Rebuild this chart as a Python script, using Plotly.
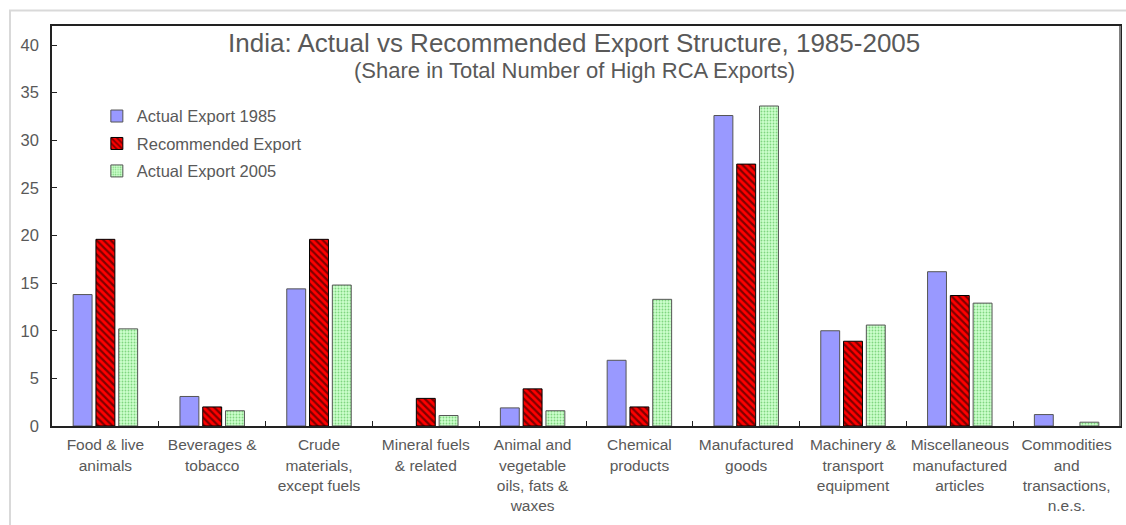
import plotly.graph_objects as go

categories = [
    "Food & live<br>animals",
    "Beverages &<br>tobacco",
    "Crude<br>materials,<br>except fuels",
    "Mineral fuels<br>& related",
    "Animal and<br>vegetable<br>oils, fats &<br>waxes",
    "Chemical<br>products",
    "Manufactured<br>goods",
    "Machinery &<br>transport<br>equipment",
    "Miscellaneous<br>manufactured<br>articles",
    "Commodities<br>and<br>transactions,<br>n.e.s.",
]
actual_1985 = [13.8, 3.1, 14.4, 0.0, 1.9, 6.9, 32.6, 10.0, 16.2, 1.2]
recommended = [19.6, 2.0, 19.6, 2.9, 3.9, 2.0, 27.5, 8.9, 13.7, 0.0]
actual_2005 = [10.2, 1.6, 14.8, 1.1, 1.6, 13.3, 33.6, 10.6, 12.9, 0.4]
y_ticks = [0, 5, 10, 15, 20, 25, 30, 35, 40]

TXT = "#595959"
FONT = "Liberation Sans, Arial, sans-serif"


def edge_widths(values):
    return [0 if v == 0 else 1 for v in values]


fig = go.Figure()
fig.add_trace(go.Bar(
    x=categories, y=actual_1985, name="Actual Export 1985",
    legendgroup="a",
    marker=dict(color="#9999FF",
                line=dict(color="#555555", width=edge_widths(actual_1985))),
))
fig.add_trace(go.Bar(
    x=categories, y=recommended, name="Recommended Export",
    legendgroup="b",
    marker=dict(color="#FF0000",
                line=dict(color="#000000", width=edge_widths(recommended)),
                pattern=dict(shape="\\", fgcolor="#000000", bgcolor="#FF0000",
                             size=5, solidity=0.45)),
))
fig.add_trace(go.Bar(
    x=categories, y=actual_2005, name="Actual Export 2005",
    legendgroup="c",
    marker=dict(color="#CCFFCC",
                line=dict(color="#555555", width=edge_widths(actual_2005)),
                pattern=dict(shape=".", fgcolor="#33AA33", bgcolor="#CCFFCC",
                             size=3, solidity=0.3)),
))

fig.update_layout(
    width=1126, height=525,
    margin=dict(l=52, r=6, t=26, b=99, autoexpand=False),
    paper_bgcolor="white", plot_bgcolor="white",
    font=dict(family=FONT, color=TXT, size=16),
    barmode="group", bargap=0.36, bargroupgap=0.17,
    showlegend=True,
    legend=dict(x=0.042, y=0.818, xanchor="left", yanchor="top",
                bgcolor="rgba(0,0,0,0)", font=dict(size=16.5, color=TXT),
                traceorder="grouped", tracegroupgap=3, itemwidth=30),
    annotations=[
        dict(text="India: Actual vs Recommended Export Structure, 1985-2005",
             xref="paper", yref="paper", x=0.489, y=(426 - 43) / 400,
             xanchor="center", yanchor="middle", showarrow=False,
             font=dict(size=26, color=TXT, family=FONT)),
        dict(text="(Share in Total Number of High RCA Exports)",
             xref="paper", yref="paper", x=0.489, y=(426 - 70) / 400,
             xanchor="center", yanchor="middle", showarrow=False,
             font=dict(size=22, color=TXT, family=FONT)),
    ],
    shapes=[
        dict(type="rect", xref="paper", yref="paper",
             x0=(10 - 52) / 1068, x1=1.02, y0=-0.3, y1=(426 - 10.5) / 400,
             line=dict(color="#D9D9D9", width=2), layer="below"),
        dict(type="line", xref="paper", yref="paper",
             x0=1, x1=1, y0=0, y1=1,
             line=dict(color="#808080", width=2)),
    ],
)
fig.update_xaxes(
    type="category", showline=True, linecolor="#222222", linewidth=1.5,
    mirror=True, ticks="inside", tickson="boundaries", ticklen=5,
    tickcolor="#222222", showgrid=False, tickfont=dict(size=15.5, color=TXT),
    tickangle=0, automargin=False, ticklabelstandoff=4,
)
fig.update_yaxes(
    range=[0, 42], tickvals=y_ticks, showline=True, linecolor="#222222",
    linewidth=1.5, mirror=True, ticks="inside", ticklen=5, tickcolor="#222222",
    showgrid=False, zeroline=False, tickfont=dict(size=16.5, color=TXT),
    ticklabelstandoff=8, automargin=False,
)

fig.write_html("out.html")
